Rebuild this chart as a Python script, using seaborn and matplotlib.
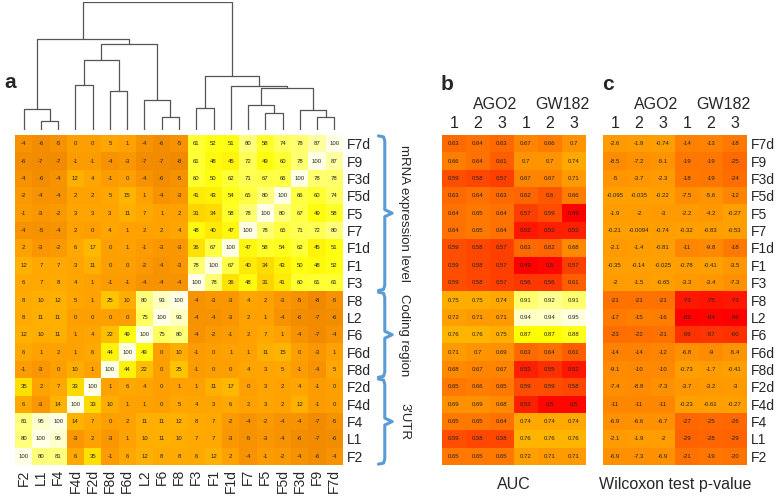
import matplotlib
matplotlib.use("Agg")
import matplotlib.pyplot as plt
from matplotlib.colors import LinearSegmentedColormap
import seaborn as sns
import numpy as np
import pandas as pd

# row / column order of the clustered matrix
rows = ["F7d", "F9", "F3d", "F5d", "F5", "F7", "F1d", "F1", "F3",
        "F8", "L2", "F6", "F6d", "F8d", "F2d", "F4d", "F4", "L1", "F2"]
cols = ["F2", "L1", "F4", "F4d", "F2d", "F8d", "F6d", "L2", "F6", "F8",
        "F3", "F1", "F1d", "F7", "F5", "F5d", "F3d", "F9", "F7d"]

overlap = [
    [-4, -6, -5, 0, 0, 5, 1, -4, -6, -5, 61, 52, 51, 80, 58, 74, 78, 87, 100],
    [-6, -7, -7, -1, -1, -4, -3, -7, -7, -8, 61, 48, 45, 72, 49, 60, 78, 100, 87],
    [-4, -6, -4, 12, 4, -1, 0, -4, -6, -5, 60, 50, 62, 71, 67, 66, 100, 78, 78],
    [-2, -4, -4, 2, 2, 5, 15, 1, -4, -3, 41, 43, 54, 65, 80, 100, 66, 60, 74],
    [-1, -3, -2, 3, 3, 3, 11, 7, 1, 2, 31, 34, 58, 78, 100, 80, 67, 49, 58],
    [-4, -5, -4, 2, 0, 4, 1, 2, 2, 4, 48, 40, 47, 100, 78, 65, 71, 72, 80],
    [2, -3, -2, 6, 17, 0, 1, -1, -3, -3, 36, 67, 100, 47, 58, 54, 62, 45, 51],
    [12, 7, 7, 3, 11, 0, 0, -2, -4, -3, 78, 100, 67, 40, 34, 43, 50, 48, 52],
    [6, 7, 8, 4, 1, -1, -1, -4, -4, -4, 100, 78, 36, 48, 31, 41, 60, 61, 61],
    [8, 10, 12, 5, 1, 25, 10, 80, 93, 100, -4, -3, -3, 4, 2, -3, -5, -8, -5],
    [8, 11, 11, 0, 0, 0, 0, 75, 100, 93, -4, -4, -3, 2, 1, -4, -6, -7, -6],
    [12, 10, 11, 1, 4, 22, 49, 100, 75, 80, -4, -2, -1, 2, 7, 1, -4, -7, -4],
    [6, 1, 2, 1, 6, 44, 100, 49, 0, 10, -1, 0, 1, 1, 11, 15, 0, -3, 1],
    [-1, -3, 0, 10, 1, 100, 44, 22, 0, 25, -1, 0, 0, 4, 3, 5, -1, -4, 5],
    [35, 2, 7, 33, 100, 1, 6, 4, 0, 1, 1, 11, 17, 0, 3, 2, 4, -1, 0],
    [6, -3, 14, 100, 33, 10, 1, 1, 0, 5, 4, 3, 6, 2, 3, 2, 12, -1, 0],
    [81, 95, 100, 14, 7, 0, 2, 11, 11, 12, 8, 7, -2, -4, -2, -4, -4, -7, -5],
    [80, 100, 95, -3, 2, -3, 1, 10, 11, 10, 7, 7, -3, -5, -3, -4, -6, -7, -6],
    [100, 80, 81, 6, 35, -1, 6, 12, 8, 8, 6, 12, 2, -4, -1, -2, -4, -6, -4],
]

# AGO2 1-3, GW182 1-3
auc = [
    [0.63, 0.64, 0.63, 0.67, 0.66, 0.7],
    [0.66, 0.64, 0.61, 0.7, 0.7, 0.74],
    [0.59, 0.58, 0.57, 0.67, 0.67, 0.71],
    [0.63, 0.64, 0.63, 0.62, 0.6, 0.66],
    [0.64, 0.65, 0.64, 0.57, 0.59, 0.49],
    [0.64, 0.65, 0.64, 0.52, 0.53, 0.53],
    [0.59, 0.58, 0.57, 0.63, 0.62, 0.68],
    [0.59, 0.58, 0.57, 0.49, 0.5, 0.57],
    [0.59, 0.58, 0.57, 0.56, 0.56, 0.61],
    [0.75, 0.75, 0.74, 0.91, 0.92, 0.91],
    [0.72, 0.71, 0.71, 0.94, 0.94, 0.95],
    [0.76, 0.76, 0.75, 0.87, 0.87, 0.88],
    [0.71, 0.7, 0.69, 0.63, 0.64, 0.61],
    [0.68, 0.67, 0.67, 0.53, 0.55, 0.52],
    [0.65, 0.66, 0.65, 0.59, 0.59, 0.58],
    [0.69, 0.69, 0.68, 0.53, 0.5, 0.5],
    [0.65, 0.65, 0.64, 0.74, 0.74, 0.74],
    [0.59, 0.58, 0.58, 0.76, 0.76, 0.76],
    [0.65, 0.65, 0.65, 0.72, 0.71, 0.71],
]

wilcox = [
    [-2.6, -1.9, -0.74, -14, -13, -18],
    [-8.5, -7.2, -5.1, -19, -19, -25],
    [-5, -3.7, -2.3, -18, -19, -24],
    [-0.095, -0.035, -0.22, -7.5, -5.6, -12],
    [-1.9, -2, -3, -2.2, -4.2, -0.27],
    [-0.21, -0.0094, -0.74, -0.32, -0.83, -0.53],
    [-2.1, -1.4, -0.81, -11, -9.8, -18],
    [-0.35, -0.14, -0.025, -0.78, -0.41, -3.5],
    [-2, -1.5, -0.65, -3.3, -3.4, -7.3],
    [-21, -21, -21, -73, -75, -73],
    [-17, -15, -16, -85, -84, -86],
    [-23, -22, -21, -59, -57, -60],
    [-14, -14, -12, -6.8, -9, -5.4],
    [-9.1, -10, -10, -0.73, -1.7, -0.41],
    [-7.4, -8.8, -7.3, -3.7, -3.2, -3],
    [-11, -11, -11, -0.23, -0.61, -0.27],
    [-6.9, -6.6, -6.7, -27, -25, -26],
    [-2.1, -1.9, -2, -29, -28, -29],
    [-6.9, -7.3, -6.9, -21, -19, -20],
]

rep_labels = ["1", "2", "3", "1", "2", "3"]
proteins = ["AGO2", "GW182"]
groups = [("mRNA expression level", 0, 9), ("Coding region", 9, 14), ("3'UTR", 14, 19)]

# column dendrogram: (left, right, height); ints refer to earlier merges
merges = [
    ("L1", "F4", 9), ("F2", 0, 21),
    ("F4d", "F2d", 45), ("F8d", "F6d", 39), (2, 3, 70),
    ("F6", "F8", 13), ("L2", 5, 30), (4, 6, 86), (1, 7, 91),
    ("F3", "F1", 22), ("F5", "F5d", 17), ("F7", 10, 25),
    ("F9", "F7d", 13), ("F3d", 12, 20), (11, 13, 42), ("F1d", 14, 44),
    (9, 15, 54), (8, 16, 128),
]

sns.set_style("white")
plt.rcParams["font.family"] = ["Liberation Sans", "DejaVu Sans"]

cmap_a = LinearSegmentedColormap.from_list("a", [
    (0.0, "#F08800"), (0.074, "#FFA000"), (0.21, "#FFB400"), (0.31, "#FFC400"),
    (0.40, "#FFE000"), (0.54, "#FFFF10"), (0.77, "#FFFF60"), (1.0, "#FFFFE6")])
cmap_b = LinearSegmentedColormap.from_list("b", [
    (0.0, "#FF0000"), (0.13, "#FF3000"), (0.28, "#FF6400"), (0.41, "#FF8A00"),
    (0.565, "#FFAE00"), (0.83, "#FFFF00"), (1.0, "#FFFFE0")])
cmap_c = LinearSegmentedColormap.from_list("c", [
    (0.0, "#FF0000"), (0.30, "#FF3000"), (0.71, "#FF6A00"), (0.88, "#FF8800"),
    (1.0, "#FFA000")])

W, H = 778, 498
fig = plt.figure(figsize=(7.78, 4.98), dpi=100)

def box(x0, y0, x1, y1):
    return [x0 / W, 1 - y1 / H, (x1 - x0) / W, (y1 - y0) / H]

annot_kw = {"size": 4.3, "color": "#222222"}

# panel a
ax_a = fig.add_axes(box(15, 135, 343, 465))
sns.heatmap(pd.DataFrame(overlap, index=rows, columns=cols), ax=ax_a, cmap=cmap_a,
            vmin=-8, vmax=100, cbar=False, annot=True, fmt="d", annot_kws=annot_kw,
            xticklabels=True, yticklabels=True)
ax_a.yaxis.tick_right()
ax_a.set_yticklabels(rows, rotation=0, fontsize=10)
ax_a.set_xticklabels(cols, rotation=90, fontsize=10)
ax_a.tick_params(length=0, pad=3)

# dendrogram
ax_d = fig.add_axes(box(15, 2, 343, 130))
leaf_x = {name: i + 0.5 for i, name in enumerate(cols)}
node_x, node_h = [], []
for left, right, h in merges:
    xl, hl = (leaf_x[left], 0) if isinstance(left, str) else (node_x[left], node_h[left])
    xr, hr = (leaf_x[right], 0) if isinstance(right, str) else (node_x[right], node_h[right])
    ax_d.plot([xl, xl, xr, xr], [hl, h, h, hr], color="#555555", lw=0.9)
    node_x.append((xl + xr) / 2)
    node_h.append(h)
ax_d.set_xlim(0, len(cols))
ax_d.set_ylim(0, max(node_h))
ax_d.axis("off")

# braces + group labels
for name, r0, r1 in groups:
    y0, y1 = r0 + 0.05, r1 - 0.05
    ym = (r0 + r1) / 2
    bx = [21.05, 21.35, 21.42, 21.42, 21.85, 21.42, 21.42, 21.35, 21.05]
    by = [y0, y0 + 0.06, y0 + 0.3, ym - 0.2, ym, ym + 0.2, y1 - 0.3, y1 - 0.06, y1]
    ax_a.plot(bx, by, color="#5B9BD5", lw=2.2, clip_on=False, solid_capstyle="round")
    ax_a.text(22.55, ym, name, rotation=-90, ha="center", va="center", fontsize=9.5)

fig.text(10 / W, 1 - 82 / H, "a", fontsize=15, fontweight="bold", ha="center", va="center")

# panels b, c
for key, data, cmap, lims, x0, bottom in [
        ("b", auc, cmap_b, (0.49, 0.95), 442, "AUC"),
        ("c", wilcox, cmap_c, (-86, 0), 603, "Wilcoxon test p-value")]:
    ax = fig.add_axes(box(x0, 135, x0 + 144, 465))
    sns.heatmap(np.array(data), ax=ax, cmap=cmap, vmin=lims[0], vmax=lims[1],
                cbar=False, annot=True, fmt=".2g", annot_kws=annot_kw,
                xticklabels=rep_labels, yticklabels=rows if key == "c" else False)
    ax.xaxis.tick_top()
    ax.set_xticklabels(rep_labels, rotation=0, fontsize=11.5)
    if key == "c":
        ax.yaxis.tick_right()
        ax.set_yticklabels(rows, rotation=0, fontsize=10)
    ax.tick_params(length=0, pad=3)
    for px, prot in zip([2.2, 5.0], proteins):
        ax.text(px, -1.75, prot, ha="center", va="center", fontsize=11.5)
    ax.text(0.2, -2.9, key, ha="center", va="center", fontsize=15, fontweight="bold")
    ax.text(3.0, 20.1, bottom, ha="center", va="center", fontsize=11.5)

fig.savefig("out.png", dpi=100)
